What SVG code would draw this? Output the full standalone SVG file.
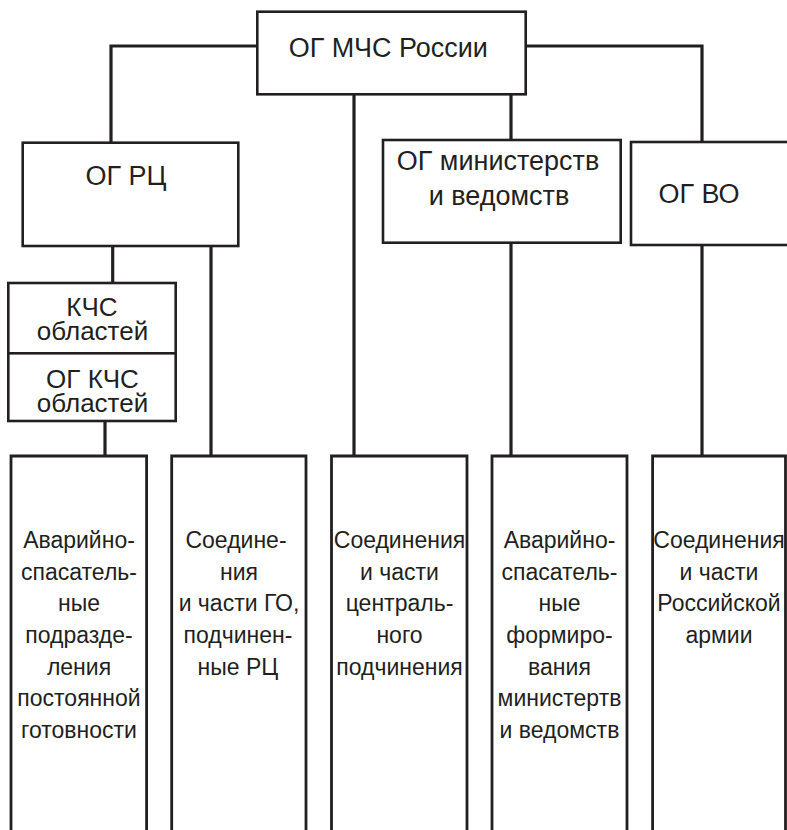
<svg xmlns="http://www.w3.org/2000/svg" width="787" height="830" viewBox="0 0 787 830">
<style>
.box{fill:#fff;stroke:#231f20;stroke-width:2.6}
.col{fill:none;stroke:#231f20;stroke-width:2.8}
.con{fill:none;stroke:#231f20;stroke-width:3.2}
text{font-family:"Liberation Sans",Arial,sans-serif;fill:#231f20;text-anchor:middle}
.t1{font-size:27px}
.t2{font-size:26px}
.t3{font-size:23px}
</style>
<rect width="787" height="830" fill="#fff"/>
<g id="connectors">
<path class="con" d="M111,143 V46 H257"/>
<path class="con" d="M526,46 H702 V142"/>
<path class="con" d="M354,94 V456"/>
<path class="con" d="M511,94 V140"/>
<path class="con" d="M112.7,246 V283"/>
<path class="con" d="M211,246 V456"/>
<path class="con" d="M105,421 V456"/>
<path class="con" d="M511,243 V456"/>
<path class="con" d="M702,245 V456"/>
</g>
<g id="og-mchs">
<rect class="box" x="257.3" y="11.7" width="268.4" height="82.6"/>
<text class="t1" x="388.3" y="57">ОГ МЧС России</text>
</g>
<g id="og-rc">
<rect class="box" x="22.7" y="142.7" width="215.6" height="103.3"/>
<text class="t1" x="126" y="185">ОГ РЦ</text>
</g>
<g id="og-min">
<rect class="box" x="383" y="140" width="237.7" height="102.7"/>
<text class="t1" x="498" y="170">ОГ министерств</text>
<text class="t1" x="499" y="205">и ведомств</text>
</g>
<g id="og-vo">
<rect class="box" x="631" y="142" width="170" height="103"/>
<text class="t1" x="699" y="203">ОГ ВО</text>
</g>
<g id="kchs">
<rect class="box" x="8.3" y="283" width="167.4" height="70.3"/>
<text class="t2" x="92" y="316">КЧС</text>
<text class="t2" x="92.5" y="340">областей</text>
</g>
<g id="og-kchs">
<rect class="box" x="8.3" y="353.3" width="167.4" height="67.7"/>
<text class="t2" x="92.5" y="388">ОГ КЧС</text>
<text class="t2" x="92.5" y="412">областей</text>
</g>
<g id="col1">
<path class="col" d="M11,840 V456 H146.6 V840"/>
<text class="t3" x="79"><tspan x="79" y="548">Аварийно-</tspan><tspan x="79" y="579.7">спасатель-</tspan><tspan x="79" y="611.3">ные</tspan><tspan x="79" y="643">подразде-</tspan><tspan x="79" y="674.7">ления</tspan><tspan x="79" y="706.3">постоянной</tspan><tspan x="79" y="738">готовности</tspan></text>
</g>
<g id="col2">
<path class="col" d="M171.7,840 V456 H306 V840"/>
<text class="t3" x="239"><tspan x="236" y="548">Соедине-</tspan><tspan x="239" y="579.7">ния</tspan><tspan x="239" y="611.3">и части ГО,</tspan><tspan x="238" y="643">подчинен-</tspan><tspan x="238" y="674.7">ные РЦ</tspan></text>
</g>
<g id="col3">
<path class="col" d="M331.5,840 V456 H467 V840"/>
<text class="t3" x="399.5"><tspan x="399.5" y="548">Соединения</tspan><tspan x="399.5" y="579.7">и части</tspan><tspan x="399.5" y="611.3">централь-</tspan><tspan x="399.5" y="643">ного</tspan><tspan x="399.5" y="674.7">подчинения</tspan></text>
</g>
<g id="col4">
<path class="col" d="M492,840 V456 H627 V840"/>
<text class="t3" x="559.5"><tspan x="559.5" y="548">Аварийно-</tspan><tspan x="559.5" y="579.7">спасатель-</tspan><tspan x="559.5" y="611.3">ные</tspan><tspan x="559.5" y="643">формиро-</tspan><tspan x="559.5" y="674.7">вания</tspan><tspan x="559.5" y="706.3">министертв</tspan><tspan x="559.5" y="738">и ведомств</tspan></text>
</g>
<g id="col5">
<path class="col" d="M652.6,840 V456 H785.5 V840"/>
<text class="t3" x="719"><tspan x="719" y="548">Соединения</tspan><tspan x="719" y="579.7">и части</tspan><tspan x="719" y="611.3">Российской</tspan><tspan x="719" y="643">армии</tspan></text>
</g>
</svg>
